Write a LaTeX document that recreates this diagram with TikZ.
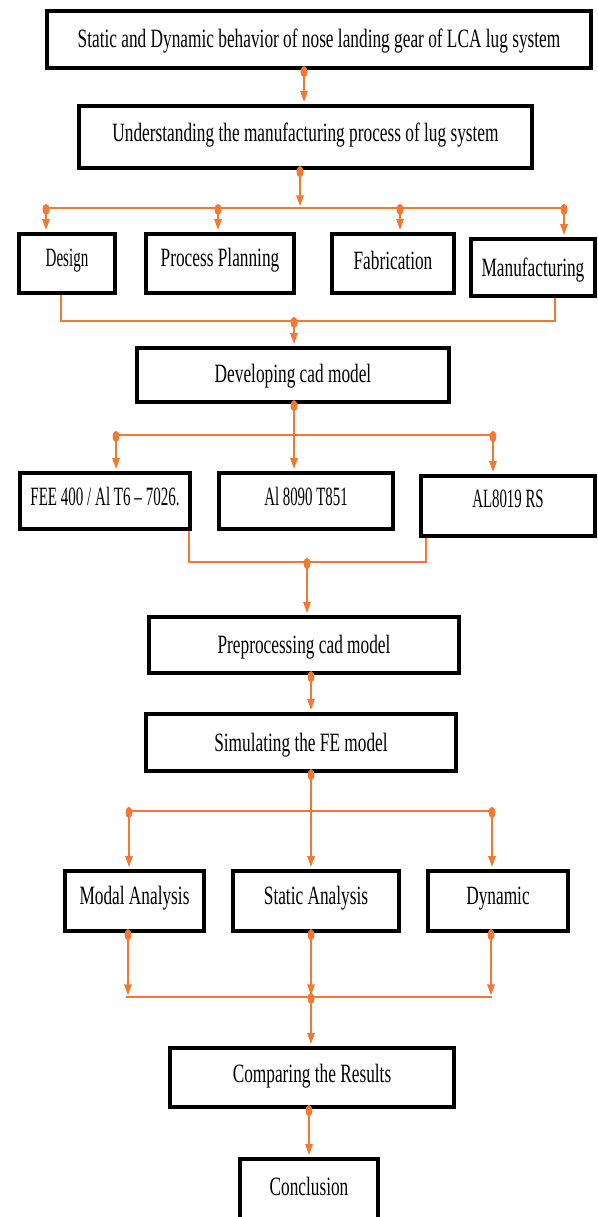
\documentclass[tikz,border=0pt]{standalone}
\usepackage{fontspec}
\setmainfont[FakeStretch=0.655]{Liberation Serif}
\usetikzlibrary{arrows.meta}
\definecolor{connclr}{RGB}{245,120,50}
\begin{document}
\begin{tikzpicture}[x=0.5pt,y=-0.5pt,
  box/.style={draw=black, line width=2.3pt, fill=white, rectangle, inner sep=0pt,
    text height=8.7pt, text depth=0pt, font=\fontsize{13.2pt}{15pt}\selectfont},
  wire/.style={draw=connclr, line width=1pt},
  flow/.style={wire, {Ellipse[length=5.5pt,width=3.4pt]}-{Triangle[length=5.5pt,width=3.6pt]},
    shorten <=-2pt, shorten >=0.8pt},
]
\useasboundingbox (0,0) rectangle (598,1217);
\clip (0,0) rectangle (598,1217);
\fill[white] (0,0) rectangle (598,1217);

% boxes
\node[box, minimum width=272pt, minimum height=28.5pt] (b1) at (319,39.5)
  {\raisebox{0.5pt}{Static and Dynamic behavior of nose landing gear of LCA lug system}};
\node[box, minimum width=226.5pt, minimum height=31pt] (b2) at (305.5,137)
  {\raisebox{2pt}{Understanding the manufacturing process of lug system}};
\node[box, minimum width=48pt, minimum height=29.5pt] (design) at (67,263.5)
  {\raisebox{3pt}{\scalebox{0.87}[1]{Design}}};
\node[box, minimum width=74pt, minimum height=29.5pt] (pp) at (220,263.5)
  {\raisebox{3pt}{Process Planning}};
\node[box, minimum width=61pt, minimum height=29.5pt] (fab) at (393,263.5)
  {\raisebox{1.5pt}{Fabrication}};
\node[box, minimum width=62pt, minimum height=28.5pt] (manu) at (533,267.5)
  {Manufacturing};
\node[box, minimum width=156pt, minimum height=27pt] (dev) at (293,375)
  {\raisebox{0.5pt}{Developing cad model}};
\node[box, minimum width=85pt, minimum height=28pt] (fee) at (105,501)
  {\raisebox{2pt}{\scalebox{0.87}[1]{FEE 400 / Al T6 -- 7026.}}};
\node[box, minimum width=87pt, minimum height=28pt] (al) at (306,501)
  {\raisebox{2pt}{\scalebox{0.86}[1]{Al 8090 T851}}};
\node[box, minimum width=87pt, minimum height=30pt] (als) at (508,506)
  {\raisebox{3.5pt}{\scalebox{0.86}[1]{AL8019 RS}}};
\node[box, minimum width=155pt, minimum height=28pt] (pre) at (304,645)
  {Preprocessing cad model};
\node[box, minimum width=155pt, minimum height=28.5pt] (sim) at (301,742.5)
  {Simulating the FE model};
\node[box, minimum width=69.5pt, minimum height=30pt] (modal) at (134.5,901)
  {\raisebox{2.5pt}{Modal Analysis}};
\node[box, minimum width=83pt, minimum height=30pt] (stat) at (316,901)
  {\raisebox{2.5pt}{Static Analysis}};
\node[box, minimum width=70pt, minimum height=30pt] (dyn) at (498,901)
  {\raisebox{2.5pt}{Dynamic}};
\node[box, minimum width=142pt, minimum height=29.5pt] (comp) at (312,1077.5)
  {\raisebox{1.75pt}{Comparing the Results}};
\node[box, minimum width=69pt, minimum height=30.5pt] (concl) at (309,1189.5)
  {\raisebox{1.25pt}{Conclusion}};

% helper coordinates
\coordinate (k1) at (304,0);
\coordinate (k2) at (300,0);
\coordinate (bus1) at (300,208);
\coordinate (bus1l) at (46,208);
\coordinate (bus1r) at (564,208);
\coordinate (t2) at (218,208);
\coordinate (t3) at (400,208);
\coordinate (k3) at (61,0);
\coordinate (k4) at (555,0);
\coordinate (j2) at (294,321);
\coordinate (k5) at (294,0);
\coordinate (bus2l) at (116,435);
\coordinate (bus2r) at (493,435);
\coordinate (k6) at (189,0);
\coordinate (k7) at (426,0);
\coordinate (j3) at (307,562);
\coordinate (k8) at (311,0);
\coordinate (bus3l) at (129,811);
\coordinate (bus3r) at (492,811);
\coordinate (k9) at (128,0);
\coordinate (k10) at (491,0);
\coordinate (j4) at (311,997);
\coordinate (bus4l) at (126,997);
\coordinate (bus4r) at (492,997);
\coordinate (k11) at (309,0);

% connectors
\draw[flow] (b1.south -| k1) -- (b2.north -| k1);
\draw[flow] (b2.south -| k2) -- (bus1);
\draw[wire] (bus1l) -- (bus1r);
\draw[flow] (bus1l) -- (design.north -| bus1l);
\draw[flow] (t2) -- (pp.north -| t2);
\draw[flow] (t3) -- (fab.north -| t3);
\draw[flow] (bus1r) -- (manu.north -| bus1r);
\draw[wire] (design.south -| k3) |- (j2) -| (manu.south -| k4);
\draw[flow] (j2) -- (dev.north -| j2);
\draw[flow] (dev.south -| k5) -- (al.north -| k5);
\draw[wire] (bus2l) -- (bus2r);
\draw[flow] (bus2l) -- (fee.north -| bus2l);
\draw[flow] (bus2r) -- (als.north -| bus2r);
\draw[wire] (fee.south -| k6) |- (j3) -| (als.south -| k7);
\draw[flow] (j3) -- (pre.north -| j3);
\draw[flow] (pre.south -| k8) -- (sim.north -| k8);
\draw[flow] (sim.south -| k8) -- (stat.north -| k8);
\draw[wire] (bus3l) -- (bus3r);
\draw[flow] (bus3l) -- (modal.north -| bus3l);
\draw[flow] (bus3r) -- (dyn.north -| bus3r);
\draw[flow] (modal.south -| k9) -- (k9 |- j4);
\draw[flow] (stat.south -| k8) -- (j4);
\draw[flow] (dyn.south -| k10) -- (k10 |- j4);
\draw[wire] (bus4l) -- (bus4r);
\draw[flow] (j4) -- (comp.north -| j4);
\draw[flow] (comp.south -| k11) -- (concl.north -| k11);
\end{tikzpicture}
\end{document}
